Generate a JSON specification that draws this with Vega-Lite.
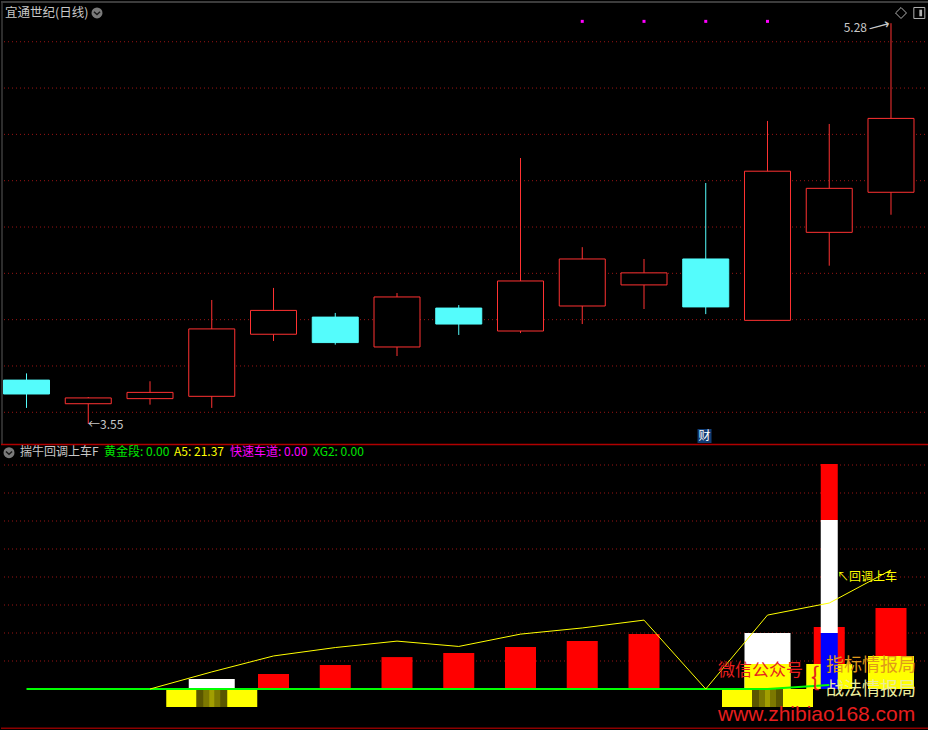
{
"$schema":"https://vega.github.io/schema/vega-lite/v6.json",
"background":"#000000",
"padding":0,
"spacing":0,
"bounds":"flush",
"resolve":{"scale":{"x":"independent","y":"independent","color":"independent","fill":"independent","stroke":"independent"}},
"config":{"view":{"stroke":null},"text":{"font":"Noto Sans CJK SC"},"scale":{"continuousPadding":0}},
"datasets":{
"candles":[
{"i":1,"open":3.739,"close":3.679,"high":3.768,"low":3.619,"dir":"down"},
{"i":2,"open":3.637,"close":3.662,"high":3.666,"low":3.55,"dir":"up"},
{"i":3,"open":3.659,"close":3.686,"high":3.734,"low":3.633,"dir":"up"},
{"i":4,"open":3.669,"close":3.960,"high":4.085,"low":3.619,"dir":"up"},
{"i":5,"open":3.937,"close":4.040,"high":4.137,"low":3.908,"dir":"up"},
{"i":6,"open":4.011,"close":3.901,"high":4.029,"low":3.892,"dir":"down"},
{"i":7,"open":3.882,"close":4.098,"high":4.115,"low":3.843,"dir":"up"},
{"i":8,"open":4.050,"close":3.981,"high":4.063,"low":3.934,"dir":"down"},
{"i":9,"open":3.951,"close":4.167,"high":4.698,"low":3.942,"dir":"up"},
{"i":10,"open":4.059,"close":4.262,"high":4.313,"low":3.981,"dir":"up"},
{"i":11,"open":4.150,"close":4.202,"high":4.262,"low":4.046,"dir":"up"},
{"i":12,"open":4.262,"close":4.055,"high":4.590,"low":4.024,"dir":"down"},
{"i":13,"open":3.997,"close":4.641,"high":4.858,"low":3.997,"dir":"up"},
{"i":14,"open":4.377,"close":4.567,"high":4.845,"low":4.233,"dir":"up"},
{"i":15,"open":4.550,"close":4.869,"high":5.28,"low":4.453,"dir":"up"}
],
"yline":[
{"i":3,"v":0},{"i":4,"v":6.1},{"i":5,"v":11.8},{"i":6,"v":14.8},{"i":7,"v":17.1},{"i":8,"v":15.2},{"i":9,"v":19.6},{"i":10,"v":21.8},{"i":11,"v":24.6},{"i":12,"v":0},{"i":13,"v":26.4},{"i":14,"v":30.7},{"i":15,"v":42.5}
],
"gline":[
{"i":1,"v":0},{"i":2,"v":0},{"i":3,"v":0},{"i":4,"v":0},{"i":5,"v":0},{"i":6,"v":0},{"i":7,"v":0},{"i":8,"v":0},{"i":9,"v":0},{"i":10,"v":0},{"i":11,"v":0},{"i":12,"v":0},{"i":13,"v":0},{"i":14,"v":1.4}
],
"redbars":[
{"i":5,"v":5.36},{"i":6,"v":8.57},{"i":7,"v":11.4},{"i":8,"v":12.9},{"i":9,"v":15.0},{"i":10,"v":17.1},{"i":11,"v":19.6},{"i":14,"v":22.1},{"i":15,"v":28.9}
],
"whitebars":[{"i":4,"v":3.57},{"i":13,"v":20}],
"yellowup":[{"i":13,"v":8.9},{"i":14,"v":8.9},{"i":15,"v":11.8}],
"yellowdown":[{"i":4,"lo":0,"hi":-6.43},{"i":13,"lo":0,"hi":-6.43}],
"tall":[{"i":14,"lo":0,"hi":20,"part":"low"},{"i":14,"lo":20,"hi":60.4,"part":"mid"},{"i":14,"lo":60.4,"hi":80.4,"part":"top"}]
},
"vconcat":[
{
"width":928,"height":443,
"layer":[
{"data":{"values":[{"g":3.6},{"g":3.8},{"g":4.0},{"g":4.2},{"g":4.4},{"g":4.6},{"g":4.8},{"g":5.0},{"g":5.2}]},
 "mark":{"type":"rule","color":"#9a1414","strokeDash":[1,3],"strokeWidth":1},
 "encoding":{"y":{"field":"g","type":"quantitative","scale":{"domain":[3.4631,5.3759],"nice":false,"zero":false,"padding":0},"axis":null}}},
{"data":{"values":[{}]},"mark":{"type":"rule","color":"#3c3c3c","strokeWidth":2},
 "encoding":{"y":{"datum":5.3712,"type":"quantitative","scale":{"domain":[3.4631,5.3759],"nice":false,"zero":false,"padding":0},"axis":null}}},
{"data":{"values":[{}]},"mark":{"type":"rule","color":"#3c3c3c","strokeWidth":1.5},
 "encoding":{"x":{"datum":0.6032,"type":"quantitative","scale":{"domain":[0.587,15.6154],"nice":false,"zero":false,"padding":0},"axis":null}}},
{"data":{"name":"candles"},"mark":{"type":"rule","strokeWidth":1},
 "encoding":{
  "x":{"field":"i","type":"quantitative","scale":{"domain":[0.587,15.6154],"nice":false,"zero":false,"padding":0},"axis":null},
  "y":{"field":"low","type":"quantitative","scale":{"domain":[3.4631,5.3759],"nice":false,"zero":false,"padding":0},"axis":null},
  "y2":{"field":"high"},
  "color":{"field":"dir","type":"nominal","scale":{"domain":["up","down"],"range":["#ff3232","#54fcfc"]},"legend":null}}},
{"data":{"name":"candles"},"mark":{"type":"bar","width":46,"strokeWidth":1},
 "encoding":{
  "x":{"field":"i","type":"quantitative","scale":{"domain":[0.587,15.6154],"nice":false,"zero":false,"padding":0},"axis":null},
  "y":{"field":"open","type":"quantitative","scale":{"domain":[3.4631,5.3759],"nice":false,"zero":false,"padding":0},"axis":null},
  "y2":{"field":"close"},
  "fill":{"field":"dir","type":"nominal","scale":{"domain":["up","down"],"range":["#000000","#54fcfc"]},"legend":null},
  "stroke":{"field":"dir","type":"nominal","scale":{"domain":["up","down"],"range":["#ff3232","#54fcfc"]},"legend":null}}},
{"data":{"values":[{"i":10},{"i":11},{"i":12},{"i":13}]},"mark":{"type":"point","shape":"square","filled":true,"size":9,"color":"#ff00ff","opacity":1},
 "encoding":{
  "x":{"field":"i","type":"quantitative","scale":{"domain":[0.587,15.6154],"nice":false,"zero":false,"padding":0},"axis":null},
  "y":{"datum":5.288,"type":"quantitative","scale":{"domain":[3.4631,5.3759],"nice":false,"zero":false,"padding":0},"axis":null}}},
{"data":{"values":[{"t":"宜通世纪(日线)"}]},"mark":{"type":"text","align":"left","baseline":"middle","fontSize":12.5,"color":"#c8c8c8"},
 "encoding":{"text":{"field":"t"},
  "x":{"datum":0.6518,"type":"quantitative","scale":{"domain":[0.587,15.6154],"nice":false,"zero":false,"padding":0},"axis":null},
  "y":{"datum":5.3241,"type":"quantitative","scale":{"domain":[3.4631,5.3759],"nice":false,"zero":false,"padding":0},"axis":null}}},
{"data":{"values":[{}]},"mark":{"type":"point","shape":"circle","filled":true,"size":120,"color":"#7a7a7a","opacity":1},
 "encoding":{
  "x":{"datum":2.1417,"type":"quantitative","scale":{"domain":[0.587,15.6154],"nice":false,"zero":false,"padding":0},"axis":null},
  "y":{"datum":5.3241,"type":"quantitative","scale":{"domain":[3.4631,5.3759],"nice":false,"zero":false,"padding":0},"axis":null}}},
{"data":{"values":[{}]},"mark":{"type":"point","shape":"M-0.5,-0.2L0,0.25L0.5,-0.2","filled":false,"size":150,"stroke":"#1a1a1a","strokeWidth":1.5,"opacity":1},
 "encoding":{
  "x":{"datum":2.1417,"type":"quantitative","scale":{"domain":[0.587,15.6154],"nice":false,"zero":false,"padding":0},"axis":null},
  "y":{"datum":5.3241,"type":"quantitative","scale":{"domain":[3.4631,5.3759],"nice":false,"zero":false,"padding":0},"axis":null}}},
{"data":{"values":[{}]},"mark":{"type":"point","shape":"diamond","filled":false,"size":120,"stroke":"#b0b0b0","strokeWidth":1,"opacity":1},
 "encoding":{
  "x":{"datum":15.162,"type":"quantitative","scale":{"domain":[0.587,15.6154],"nice":false,"zero":false,"padding":0},"axis":null},
  "y":{"datum":5.3241,"type":"quantitative","scale":{"domain":[3.4631,5.3759],"nice":false,"zero":false,"padding":0},"axis":null}}},
{"data":{"values":[{}]},"mark":{"type":"point","shape":"square","filled":false,"size":121,"stroke":"#b0b0b0","strokeWidth":1,"opacity":1},
 "encoding":{
  "x":{"datum":15.459,"type":"quantitative","scale":{"domain":[0.587,15.6154],"nice":false,"zero":false,"padding":0},"axis":null},
  "y":{"datum":5.3241,"type":"quantitative","scale":{"domain":[3.4631,5.3759],"nice":false,"zero":false,"padding":0},"axis":null}}},
{"data":{"values":[{}]},"mark":{"type":"point","shape":"M0,-0.6L0.5,-0.6L0.5,0.6L0,0.6Z","filled":true,"size":121,"color":"#b0b0b0","opacity":1},
 "encoding":{
  "x":{"datum":15.459,"type":"quantitative","scale":{"domain":[0.587,15.6154],"nice":false,"zero":false,"padding":0},"axis":null},
  "y":{"datum":5.3241,"type":"quantitative","scale":{"domain":[3.4631,5.3759],"nice":false,"zero":false,"padding":0},"axis":null}}},
{"data":{"values":[{"t":"5.28"}]},"mark":{"type":"text","align":"right","baseline":"middle","fontSize":12,"color":"#c8c8c8"},
 "encoding":{"text":{"field":"t"},
  "x":{"datum":14.611,"type":"quantitative","scale":{"domain":[0.587,15.6154],"nice":false,"zero":false,"padding":0},"axis":null},
  "y":{"datum":5.2593,"type":"quantitative","scale":{"domain":[3.4631,5.3759],"nice":false,"zero":false,"padding":0},"axis":null}}},
{"data":{"values":[{"t":"⟶"}]},"mark":{"type":"text","align":"center","baseline":"middle","fontSize":15,"font":"DejaVu Sans","angle":345,"color":"#c8c8c8"},
 "encoding":{"text":{"field":"t"},
  "x":{"datum":14.806,"type":"quantitative","scale":{"domain":[0.587,15.6154],"nice":false,"zero":false,"padding":0},"axis":null},
  "y":{"datum":5.268,"type":"quantitative","scale":{"domain":[3.4631,5.3759],"nice":false,"zero":false,"padding":0},"axis":null}}},
{"data":{"values":[{"t":"←3.55"}]},"mark":{"type":"text","align":"left","baseline":"middle","fontSize":12,"color":"#c8c8c8"},
 "encoding":{"text":{"field":"t"},
  "x":{"datum":1.996,"type":"quantitative","scale":{"domain":[0.587,15.6154],"nice":false,"zero":false,"padding":0},"axis":null},
  "y":{"datum":3.5452,"type":"quantitative","scale":{"domain":[3.4631,5.3759],"nice":false,"zero":false,"padding":0},"axis":null}}},
{"data":{"values":[{}]},"mark":{"type":"point","shape":"square","filled":true,"size":196,"color":"#103c74","opacity":1},
 "encoding":{
  "x":{"datum":11.98,"type":"quantitative","scale":{"domain":[0.587,15.6154],"nice":false,"zero":false,"padding":0},"axis":null},
  "y":{"datum":3.4977,"type":"quantitative","scale":{"domain":[3.4631,5.3759],"nice":false,"zero":false,"padding":0},"axis":null}}},
{"data":{"values":[{"t":"财"}]},"mark":{"type":"text","align":"center","baseline":"middle","fontSize":12,"color":"#ffffff"},
 "encoding":{"text":{"field":"t"},
  "x":{"datum":11.98,"type":"quantitative","scale":{"domain":[0.587,15.6154],"nice":false,"zero":false,"padding":0},"axis":null},
  "y":{"datum":3.4977,"type":"quantitative","scale":{"domain":[3.4631,5.3759],"nice":false,"zero":false,"padding":0},"axis":null}}}
]
},
{
"width":928,"height":287,
"layer":[
{"data":{"values":[{"g":10},{"g":20},{"g":30},{"g":40},{"g":50},{"g":60},{"g":70},{"g":80}]},
 "mark":{"type":"rule","color":"#9a1414","strokeDash":[1,3],"strokeWidth":1},
 "encoding":{"y":{"field":"g","type":"quantitative","scale":{"domain":[-15,87.5],"nice":false,"zero":false,"padding":0},"axis":null}}},
{"data":{"values":[{}]},"mark":{"type":"rule","color":"#b00000","strokeWidth":1.5},
 "encoding":{"y":{"datum":87.3,"type":"quantitative","scale":{"domain":[-15,87.5],"nice":false,"zero":false,"padding":0},"axis":null}}},
{"data":{"values":[{}]},"mark":{"type":"rule","color":"#8b0000","strokeWidth":1.5},
 "encoding":{"y":{"datum":-14.04,"type":"quantitative","scale":{"domain":[-15,87.5],"nice":false,"zero":false,"padding":0},"axis":null}}},
{"data":{"name":"yellowdown"},"mark":{"type":"bar","width":91,"color":"#ffff00"},
 "encoding":{
  "x":{"field":"i","type":"quantitative","scale":{"domain":[0.587,15.6154],"nice":false,"zero":false,"padding":0},"axis":null},
  "y":{"field":"lo","type":"quantitative","scale":{"domain":[-15,87.5],"nice":false,"zero":false,"padding":0},"axis":null},
  "y2":{"field":"hi"}}},
{"data":{"name":"yellowdown"},"mark":{"type":"bar","width":31,"color":"#5a5600"},
 "encoding":{
  "x":{"field":"i","type":"quantitative","scale":{"domain":[0.587,15.6154],"nice":false,"zero":false,"padding":0},"axis":null},
  "y":{"field":"lo","type":"quantitative","scale":{"domain":[-15,87.5],"nice":false,"zero":false,"padding":0},"axis":null},
  "y2":{"field":"hi"}}},
{"data":{"name":"yellowdown"},"mark":{"type":"bar","width":17,"color":"#7c7800"},
 "encoding":{
  "x":{"field":"i","type":"quantitative","scale":{"domain":[0.587,15.6154],"nice":false,"zero":false,"padding":0},"axis":null},
  "y":{"field":"lo","type":"quantitative","scale":{"domain":[-15,87.5],"nice":false,"zero":false,"padding":0},"axis":null},
  "y2":{"field":"hi"}}},
{"data":{"name":"yellowdown"},"mark":{"type":"bar","width":5,"color":"#a29e00"},
 "encoding":{
  "x":{"field":"i","type":"quantitative","scale":{"domain":[0.587,15.6154],"nice":false,"zero":false,"padding":0},"axis":null},
  "y":{"field":"lo","type":"quantitative","scale":{"domain":[-15,87.5],"nice":false,"zero":false,"padding":0},"axis":null},
  "y2":{"field":"hi"}}},
{"data":{"name":"whitebars"},"mark":{"type":"bar","width":46,"color":"#ffffff"},
 "encoding":{
  "x":{"field":"i","type":"quantitative","scale":{"domain":[0.587,15.6154],"nice":false,"zero":false,"padding":0},"axis":null},
  "y":{"field":"v","type":"quantitative","scale":{"domain":[-15,87.5],"nice":false,"zero":false,"padding":0},"axis":null},
  "y2":{"datum":0}}},
{"data":{"name":"redbars"},"mark":{"type":"bar","width":31,"color":"#ff0000"},
 "encoding":{
  "x":{"field":"i","type":"quantitative","scale":{"domain":[0.587,15.6154],"nice":false,"zero":false,"padding":0},"axis":null},
  "y":{"field":"v","type":"quantitative","scale":{"domain":[-15,87.5],"nice":false,"zero":false,"padding":0},"axis":null},
  "y2":{"datum":0}}},
{"data":{"name":"yellowup"},"mark":{"type":"bar","width":46,"color":"#ffff00"},
 "encoding":{
  "x":{"field":"i","type":"quantitative","scale":{"domain":[0.587,15.6154],"nice":false,"zero":false,"padding":0},"axis":null},
  "y":{"field":"v","type":"quantitative","scale":{"domain":[-15,87.5],"nice":false,"zero":false,"padding":0},"axis":null},
  "y2":{"datum":0}}},
{"data":{"name":"tall"},"mark":{"type":"bar","width":17},
 "encoding":{
  "x":{"field":"i","type":"quantitative","scale":{"domain":[0.587,15.6154],"nice":false,"zero":false,"padding":0},"axis":null},
  "y":{"field":"lo","type":"quantitative","scale":{"domain":[-15,87.5],"nice":false,"zero":false,"padding":0},"axis":null},
  "y2":{"field":"hi"},
  "fill":{"field":"part","type":"nominal","scale":{"domain":["low","mid","top"],"range":["#0000ff","#ffffff","#ff0000"]},"legend":null}}},
{"data":{"name":"gline"},"mark":{"type":"line","color":"#00ff00","strokeWidth":2},
 "encoding":{
  "x":{"field":"i","type":"quantitative","scale":{"domain":[0.587,15.6154],"nice":false,"zero":false,"padding":0},"axis":null},
  "y":{"field":"v","type":"quantitative","scale":{"domain":[-15,87.5],"nice":false,"zero":false,"padding":0},"axis":null}}},
{"data":{"name":"yline"},"mark":{"type":"line","color":"#ffff00","strokeWidth":1},
 "encoding":{
  "x":{"field":"i","type":"quantitative","scale":{"domain":[0.587,15.6154],"nice":false,"zero":false,"padding":0},"axis":null},
  "y":{"field":"v","type":"quantitative","scale":{"domain":[-15,87.5],"nice":false,"zero":false,"padding":0},"axis":null}}},
{"data":{"values":[{}]},"mark":{"type":"point","shape":"circle","filled":true,"size":120,"color":"#7a7a7a","opacity":1},
 "encoding":{
  "x":{"datum":0.7166,"type":"quantitative","scale":{"domain":[0.587,15.6154],"nice":false,"zero":false,"padding":0},"axis":null},
  "y":{"datum":84.4,"type":"quantitative","scale":{"domain":[-15,87.5],"nice":false,"zero":false,"padding":0},"axis":null}}},
{"data":{"values":[{}]},"mark":{"type":"point","shape":"M-0.5,-0.2L0,0.25L0.5,-0.2","filled":false,"size":150,"stroke":"#1a1a1a","strokeWidth":1.5,"opacity":1},
 "encoding":{
  "x":{"datum":0.7166,"type":"quantitative","scale":{"domain":[0.587,15.6154],"nice":false,"zero":false,"padding":0},"axis":null},
  "y":{"datum":84.4,"type":"quantitative","scale":{"domain":[-15,87.5],"nice":false,"zero":false,"padding":0},"axis":null}}},
{"data":{"values":[{"t":"揣牛回调上车F"}]},"mark":{"type":"text","align":"left","baseline":"middle","fontSize":12,"color":"#c8c8c8"},
 "encoding":{"text":{"field":"t"},
  "x":{"datum":0.8947,"type":"quantitative","scale":{"domain":[0.587,15.6154],"nice":false,"zero":false,"padding":0},"axis":null},
  "y":{"datum":84.6,"type":"quantitative","scale":{"domain":[-15,87.5],"nice":false,"zero":false,"padding":0},"axis":null}}},
{"data":{"values":[{"t":"黄金段: 0.00"}]},"mark":{"type":"text","align":"left","baseline":"middle","fontSize":12,"color":"#00e600"},
 "encoding":{"text":{"field":"t"},
  "x":{"datum":2.2551,"type":"quantitative","scale":{"domain":[0.587,15.6154],"nice":false,"zero":false,"padding":0},"axis":null},
  "y":{"datum":84.6,"type":"quantitative","scale":{"domain":[-15,87.5],"nice":false,"zero":false,"padding":0},"axis":null}}},
{"data":{"values":[{"t":"A5: 21.37"}]},"mark":{"type":"text","align":"left","baseline":"middle","fontSize":12,"color":"#ffff00"},
 "encoding":{"text":{"field":"t"},
  "x":{"datum":3.3887,"type":"quantitative","scale":{"domain":[0.587,15.6154],"nice":false,"zero":false,"padding":0},"axis":null},
  "y":{"datum":84.6,"type":"quantitative","scale":{"domain":[-15,87.5],"nice":false,"zero":false,"padding":0},"axis":null}}},
{"data":{"values":[{"t":"快速车道: 0.00"}]},"mark":{"type":"text","align":"left","baseline":"middle","fontSize":12,"color":"#ff00ff"},
 "encoding":{"text":{"field":"t"},
  "x":{"datum":4.2955,"type":"quantitative","scale":{"domain":[0.587,15.6154],"nice":false,"zero":false,"padding":0},"axis":null},
  "y":{"datum":84.6,"type":"quantitative","scale":{"domain":[-15,87.5],"nice":false,"zero":false,"padding":0},"axis":null}}},
{"data":{"values":[{"t":"XG2: 0.00"}]},"mark":{"type":"text","align":"left","baseline":"middle","fontSize":12,"color":"#00e600"},
 "encoding":{"text":{"field":"t"},
  "x":{"datum":5.6397,"type":"quantitative","scale":{"domain":[0.587,15.6154],"nice":false,"zero":false,"padding":0},"axis":null},
  "y":{"datum":84.6,"type":"quantitative","scale":{"domain":[-15,87.5],"nice":false,"zero":false,"padding":0},"axis":null}}},
{"data":{"values":[{"t":"↖回调上车"}]},"mark":{"type":"text","align":"left","baseline":"middle","fontSize":12,"color":"#ffff00"},
 "encoding":{"text":{"field":"t"},
  "x":{"datum":14.125,"type":"quantitative","scale":{"domain":[0.587,15.6154],"nice":false,"zero":false,"padding":0},"axis":null},
  "y":{"datum":40,"type":"quantitative","scale":{"domain":[-15,87.5],"nice":false,"zero":false,"padding":0},"axis":null}}},
{"data":{"values":[{"t":"微信公众号"}]},"mark":{"type":"text","align":"left","baseline":"middle","fontSize":17,"color":"#e61e1e"},
 "encoding":{"text":{"field":"t"},
  "x":{"datum":12.198,"type":"quantitative","scale":{"domain":[0.587,15.6154],"nice":false,"zero":false,"padding":0},"axis":null},
  "y":{"datum":6.43,"type":"quantitative","scale":{"domain":[-15,87.5],"nice":false,"zero":false,"padding":0},"axis":null}}},
{"data":{"values":[{"t":"{"}]},"mark":{"type":"text","align":"center","baseline":"middle","fontSize":26,"color":"#e61e1e"},
 "encoding":{"text":{"field":"t"},
  "x":{"datum":13.77,"type":"quantitative","scale":{"domain":[0.587,15.6154],"nice":false,"zero":false,"padding":0},"axis":null},
  "y":{"datum":3.93,"type":"quantitative","scale":{"domain":[-15,87.5],"nice":false,"zero":false,"padding":0},"axis":null}}},
{"data":{"values":[{"t":"指标情报局"}]},"mark":{"type":"text","align":"left","baseline":"middle","fontSize":18,"color":"#e09a1a"},
 "encoding":{"text":{"field":"t"},
  "x":{"datum":13.947,"type":"quantitative","scale":{"domain":[0.587,15.6154],"nice":false,"zero":false,"padding":0},"axis":null},
  "y":{"datum":8.21,"type":"quantitative","scale":{"domain":[-15,87.5],"nice":false,"zero":false,"padding":0},"axis":null}}},
{"data":{"values":[{"t":"战法情报局"}]},"mark":{"type":"text","align":"left","baseline":"middle","fontSize":18,"color":"#ecec9c"},
 "encoding":{"text":{"field":"t"},
  "x":{"datum":13.947,"type":"quantitative","scale":{"domain":[0.587,15.6154],"nice":false,"zero":false,"padding":0},"axis":null},
  "y":{"datum":-0.36,"type":"quantitative","scale":{"domain":[-15,87.5],"nice":false,"zero":false,"padding":0},"axis":null}}},
{"data":{"values":[{"t":"www.zhibiao168.com"}]},"mark":{"type":"text","align":"left","baseline":"middle","fontSize":21,"font":"Liberation Sans","color":"#e61e1e"},
 "encoding":{"text":{"field":"t"},
  "x":{"datum":12.198,"type":"quantitative","scale":{"domain":[0.587,15.6154],"nice":false,"zero":false,"padding":0},"axis":null},
  "y":{"datum":-9.29,"type":"quantitative","scale":{"domain":[-15,87.5],"nice":false,"zero":false,"padding":0},"axis":null}}}
]
}
]
}
